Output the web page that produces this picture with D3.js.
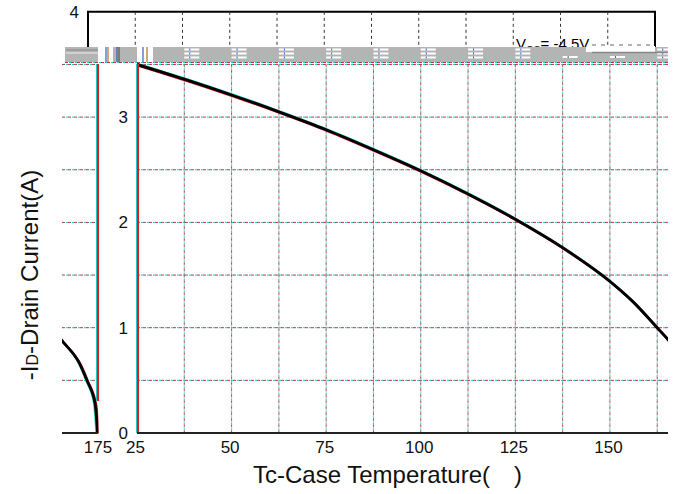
<!DOCTYPE html>
<html>
<head>
<meta charset="utf-8">
<script src="https://cdn.jsdelivr.net/npm/d3@7"></script>
<style>
  body { margin: 0; background: #fff; }
  svg { display: block; font-family: "Liberation Sans", Arial, sans-serif; }
</style>
</head>
<body>
<div id="chart"></div>
<script>
// drain current derating curve
const temps   = [25, 37.5, 50, 62.5, 75, 87.5, 100, 112.5, 125, 137.5, 150, 156, 162.5, 166, 170.4, 172.2, 174.4, 175]
const current = [3.5, 3.36, 3.21, 3.05, 2.88, 2.69, 2.49, 2.27, 2.03, 1.76, 1.44, 1.25, 1.0, 0.86, 0.65, 0.5, 0.27, 0]
const xTicks = [25, 50, 75, 100, 125, 150]
const xGrid = [37.5, 50, 62.5, 75, 87.5, 100, 112.5, 125, 137.5, 150, 162.5]
const yTicks = [0, 1, 2, 3]
const yGrid = [0.5, 1, 1.5, 2, 2.5, 3, 3.5]
const vgsLabel = ["V", "GS", "= -4.5V"]

const width = 677, height = 494
const wrap = 607 // the plot wraps round, the tail shows up on the left

const x = d3.scaleLinear().domain([25, 175]).range([137, 704.5])
const xTop = d3.scaleLinear().domain([25, 175]).range([88, 655])
const y = d3.scaleLinear().domain([0, 4]).range([433, 11.8])

const svg = d3.select("#chart").append("svg")
    .attr("width", width)
    .attr("height", height)
    .attr("viewBox", [0, 0, width, height])

const defs = svg.append("defs")
defs.append("clipPath").attr("id", "clipMain")
  .append("rect").attr("x", 137).attr("y", 62).attr("width", 531).attr("height", 372)
defs.append("clipPath").attr("id", "clipLeft")
  .append("rect").attr("x", 62 + wrap).attr("y", 62).attr("width", 36.5).attr("height", 372)
defs.append("clipPath").attr("id", "clipTop")
  .append("rect").attr("x", 60).attr("y", 0).attr("width", 610).attr("height", 47)

// dotted grid line in offset colours
function gridLine(g, x1, y1, x2, y2) {
  const cols = ["#c83232", "#30c0c8", "#666"]
  cols.forEach((c, i) => {
    g.append("line")
      .attr("x1", x1).attr("y1", y1).attr("x2", x2).attr("y2", y2)
      .attr("stroke", c)
      .attr("stroke-width", 1)
      .attr("stroke-dasharray", i == 2 ? "1,5" : "2,4")
      .attr("stroke-dashoffset", i * 2)
  })
}

const line = d3.line()
    .curve(d3.curveMonotoneX)
    .x((d, i) => x(temps[i]))
    .y(d => y(d))

function drawPanel(g, x0, x1) {
  yGrid.forEach(v => gridLine(g, x0, y(v), x1, y(v)))
  xGrid.forEach(v => gridLine(g, x(v), y(3.5), x(v), y(0)))
  // curve with colour fringes
  g.append("path").attr("d", line(current)).attr("fill", "none")
    .attr("stroke", "#30d0d0").attr("stroke-width", 2.5).attr("transform", "translate(-1,-1)")
  g.append("path").attr("d", line(current)).attr("fill", "none")
    .attr("stroke", "#d02020").attr("stroke-width", 2.5).attr("transform", "translate(1,1)")
  g.append("path").attr("d", line(current)).attr("fill", "none")
    .attr("stroke", "#000").attr("stroke-width", 2.8)
}

// main lower panel
const main = svg.append("g").attr("clip-path", "url(#clipMain)")
drawPanel(main, 137, 668)

// wrapped tail on the left
const left = svg.append("g").attr("transform", `translate(${-wrap},0)`)
const leftInner = left.append("g").attr("clip-path", "url(#clipLeft)")
drawPanel(leftInner, 62 + wrap, 98 + wrap)

// red/cyan vertical axis lines
function fringeV(xv, y2) {
  svg.append("rect").attr("x", xv - 1).attr("y", y(3.5)).attr("width", 1).attr("height", y2 - y(3.5))
    .attr("fill", "#22c8d0").attr("shape-rendering", "crispEdges")
  svg.append("rect").attr("x", xv).attr("y", y(3.5)).attr("width", 2).attr("height", y2 - y(3.5))
    .attr("fill", "#e01c1c").attr("shape-rendering", "crispEdges")
}
fringeV(137, y(0))
fringeV(97, y(0.3))

// baseline
svg.append("line").attr("x1", 62).attr("x2", x(175) - wrap).attr("y1", y(0)).attr("y2", y(0))
  .attr("stroke", "#222").attr("stroke-width", 2)
svg.append("line").attr("x1", 137).attr("x2", 668).attr("y1", y(0)).attr("y2", y(0))
  .attr("stroke", "#222").attr("stroke-width", 2)

// top strip: the original frame, cut off by the grey band
const topStrip = svg.append("g").attr("clip-path", "url(#clipTop)")
topStrip.append("path")
  .attr("d", `M${xTop(25)},60 V${y(4)} H${xTop(175)} V60`)
  .attr("fill", "none").attr("stroke", "#000").attr("stroke-width", 2)
xGrid.forEach(v => {
  topStrip.append("line").attr("x1", xTop(v)).attr("x2", xTop(v)).attr("y1", y(4)).attr("y2", 60)
    .attr("stroke", "#333").attr("stroke-dasharray", "3,3")
})

// grey glitch band
svg.append("rect").attr("x", 65).attr("y", 47).attr("width", 603).attr("height", 15).attr("fill", "#b4b4b4")
svg.append("rect").attr("x", 98).attr("y", 45).attr("width", 15).attr("height", 17).attr("fill", "#fff")
svg.append("rect").attr("x", 137).attr("y", 45).attr("width", 16).attr("height", 17).attr("fill", "#fff")
svg.append("line").attr("x1", 66).attr("x2", 98).attr("y1", 50).attr("y2", 50).attr("stroke", "#888")
svg.append("line").attr("x1", 66).attr("x2", 98).attr("y1", 53).attr("y2", 53).attr("stroke", "#eee")
;[[106, "#3060c0"], [108, "#b07020"], [143, "#3060c0"], [147, "#b07020"], [117, "#3060c0"], [119, "#555"]].forEach(([xv, c]) => {
  svg.append("line").attr("x1", xv).attr("x2", xv).attr("y1", 47).attr("y2", 62).attr("stroke", c).attr("stroke-width", 1.2)
})
xGrid.forEach(v => {
  const xv = x(v)
  const rows = (v === 150 || v === 137.5) ? [57] : [49.5, 53.5, 57.5]
  rows.forEach(r => {
    svg.append("rect").attr("x", xv).attr("y", r - 1).attr("width", 15).attr("height", 2).attr("fill", "#fff")
    svg.append("rect").attr("x", xv + 5).attr("y", r - 1).attr("width", 1).attr("height", 2).attr("fill", "#3060c0")
  })
})
svg.append("rect").attr("x", 586).attr("y", 46).attr("width", 69).attr("height", 6).attr("fill", "#fff")
svg.append("line").attr("x1", 592).attr("x2", 668).attr("y1", 52.5).attr("y2", 52.5).attr("stroke", "#888").attr("stroke-width", 1.5)
svg.append("line").attr("x1", 592).attr("x2", 650).attr("y1", 45).attr("y2", 45)
  .attr("stroke", "#666").attr("stroke-dasharray", "4,5")

// VGS label, bottom cut off by the band
const vgs = svg.append("text").attr("x", 516).attr("y", 48.5).attr("font-size", 15).attr("fill", "#000")
  .attr("clip-path", "url(#clipTop)")
vgs.append("tspan").text(vgsLabel[0])
vgs.append("tspan").attr("font-size", 10).attr("dy", 5).text(vgsLabel[1])
vgs.append("tspan").attr("dy", -5).text(vgsLabel[2])

// dotted line at the band's lower edge
gridLine(svg, 65, 62.5, 668, 62.5)

// axes
const tickFont = g => g.selectAll("text").attr("font-size", 17).attr("fill", "#111")
  .attr("font-family", "'Liberation Sans', Arial, sans-serif")

svg.append("g")
    .attr("transform", `translate(-2,${y(0)})`)
    .call(d3.axisBottom(x).tickValues(xTicks).tickSize(0).tickPadding(8))
    .call(g => g.select(".domain").remove())
    .call(tickFont)

left.append("g")
    .attr("transform", `translate(0,${y(0)})`)
    .call(d3.axisBottom(x).tickValues([175]).tickSize(0).tickPadding(8))
    .call(g => g.select(".domain").remove())
    .call(tickFont)

svg.append("g")
    .attr("transform", "translate(128,0)")
    .call(d3.axisLeft(y).tickValues(yTicks).tickFormat(d3.format("d")).tickSize(0).tickPadding(0))
    .call(g => g.select(".domain").remove())
    .call(tickFont)

svg.append("g")
    .attr("transform", "translate(79,0)")
    .call(d3.axisLeft(y).tickValues([4]).tickFormat(d3.format("d")).tickSize(0).tickPadding(0))
    .call(g => g.select(".domain").remove())
    .call(tickFont)

// axis titles
svg.append("text")
    .attr("x", 253).attr("y", 483)
    .attr("font-size", 24).attr("fill", "#111")
    .text("Tc-Case Temperature(")
svg.append("text")
    .attr("x", 514).attr("y", 483)
    .attr("font-size", 24).attr("fill", "#111")
    .text(")")

const yt = svg.append("text")
    .attr("transform", "translate(38,275) rotate(-90)")
    .attr("text-anchor", "middle")
    .attr("font-size", 24).attr("fill", "#111")
yt.append("tspan").text("-I")
yt.append("tspan").attr("font-size", 16).text("D")
yt.append("tspan").text("-Drain Current(A)")
</script>
</body>
</html>
